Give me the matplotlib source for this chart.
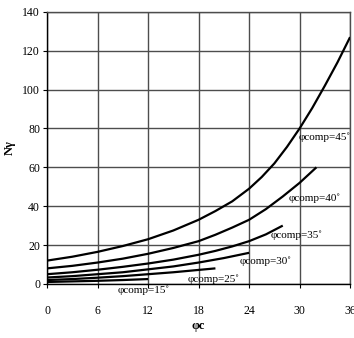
import numpy as np
import matplotlib
matplotlib.use("Agg")
import matplotlib.pyplot as plt

plt.rcParams['font.family'] = ['Liberation Serif', 'DejaVu Serif']

# values
x45 = [0, 3, 6, 9, 12, 15, 18, 20, 22, 24, 25.5, 27, 28.5, 30, 31.5, 33, 34.5, 36]
y45 = [12, 14, 16.5, 19.5, 23, 27.5, 33, 37.5, 42.5, 49, 55, 62, 70.5, 80, 90.5, 102, 114, 127]
x40 = [0, 3, 6, 9, 12, 15, 18, 20, 22, 24, 26, 28, 30, 32]
y40 = [8, 9.3, 11, 13, 15.5, 18.5, 22, 25.3, 29, 33, 38.5, 45, 52, 60]
x35 = [0, 3, 6, 9, 12, 15, 18, 20, 22, 24, 26, 28]
y35 = [5, 6, 7.3, 8.8, 10.5, 12.5, 15, 17, 19.3, 22, 25.5, 30]
x30 = [0, 3, 6, 9, 12, 15, 18, 21, 24]
y30 = [3.3, 4, 5, 6, 7.5, 9, 11, 13.3, 16]
x25 = [0, 3, 6, 9, 12, 15, 18, 20]
y25 = [2, 2.5, 3.2, 4, 5, 6, 7.2, 8]
x15 = [0, 3, 6, 9, 12]
y15 = [1, 1.3, 1.6, 2, 2.5]

curves = [(x45, y45), (x40, y40), (x35, y35), (x30, y30), (x25, y25), (x15, y15)]
labels = ["φcomp=45˚", "φcomp=40˚", "φcomp=35˚", "φcomp=30˚", "φcomp=25˚", "φcomp=15˚"]
label_pos = [(29.9, 75.7), (28.7, 44), (26.5, 24.9), (22.9, 11.8), (16.7, 2.4), (8.4, -3.1)]

xticks = [0, 6, 12, 18, 24, 30, 36]
yticks = [0, 20, 40, 60, 80, 100, 120, 140]

fig = plt.figure(figsize=(3.54, 3.38), dpi=100)
ax = fig.add_axes([0.133, 0.160, 0.856, 0.805])

for x, y in curves:
    ax.plot(x, y, color='black', lw=1.6, solid_capstyle='butt', zorder=3)

for lab, (lx, ly) in zip(labels, label_pos):
    ax.text(lx, ly, lab, fontsize=8, va='center', ha='left', zorder=4)

ax.set_xlim(0, 36)
ax.set_ylim(0, 140)
ax.set_xticks(xticks)
ax.set_yticks(yticks)
ax.grid(True, color='#4d4d4d', lw=1.0)
for s in ax.spines.values():
    s.set_color('#4d4d4d')
    s.set_linewidth(1.0)
ax.spines['left'].set_color('black')
ax.spines['bottom'].set_color('black')
ax.tick_params(axis='both', labelsize=8.5, length=3, width=0.8)
ax.tick_params(axis='x', pad=12)
ax.tick_params(axis='y', pad=2)

ax.set_ylabel("Nγ", fontsize=9, fontweight='bold', labelpad=5)
ax.set_xlabel("φc", fontsize=9, fontweight='bold', labelpad=2)

fig.savefig("out.png", dpi=100)
